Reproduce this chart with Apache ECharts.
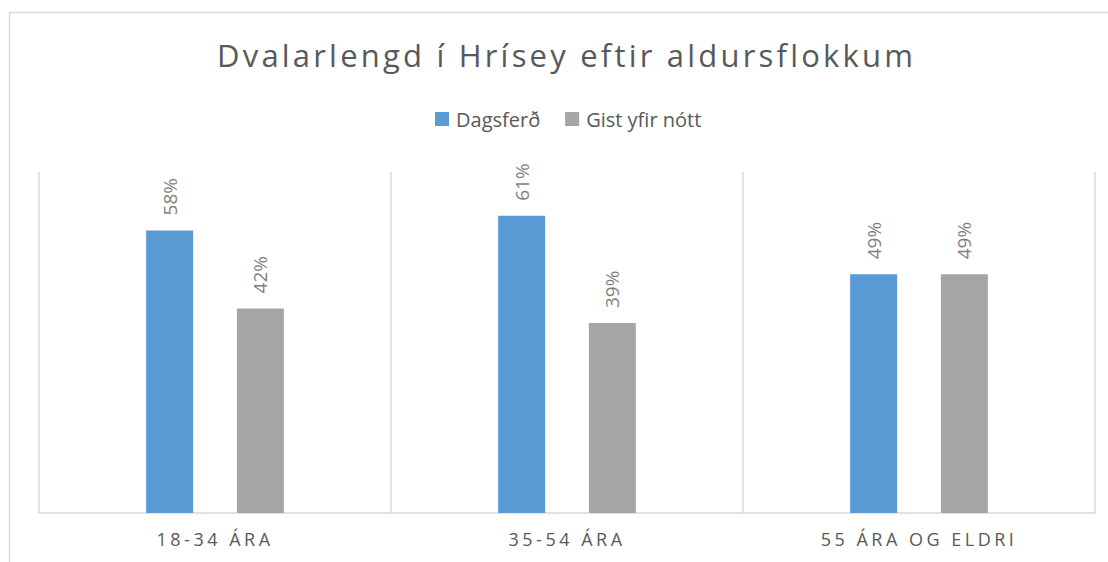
<!DOCTYPE html>
<html>
<head>
<meta charset="utf-8">
<script src="https://cdn.jsdelivr.net/npm/echarts@6/dist/echarts.min.js"></script>
<style>
  html, body { margin: 0; padding: 0; background: #fff; }
  #chart { width: 1108px; height: 562px; }
</style>
</head>
<body>
<div id="chart"></div>
<script>
const titleText = 'Dvalarlengd í Hrísey eftir aldursflokkum';
const categories = ['18-34 ÁRA', '35-54 ÁRA', '55 ÁRA OG ELDRI'];
const seriesNames = ['Dagsferð', 'Gist yfir nótt'];
const dagsferd = [58, 61, 49];
const gist = [42, 39, 49];

const chart = echarts.init(document.getElementById('chart'), null, { renderer: 'svg' });

const labelStyle = {
  show: true,
  position: 'top',
  rotate: 90,
  align: 'left',
  verticalAlign: 'middle',
  distance: 15,
  color: '#7f7f7f',
  fontFamily: 'Open Sans',
  fontSize: 19,
  formatter: function (p) { return p.value + '%'; }
};

const option = {
  animation: false,
  color: ['#5b9bd5', '#a5a5a5'],
  title: {
    text: titleText,
    left: 217,
    top: 39,
    padding: 0,
    textStyle: {
      fontFamily: 'Open Sans',
      fontWeight: 'normal',
      fontSize: 31,
      color: '#595959'
    }
  },
  legend: {
    left: 435,
    top: 109,
    padding: 0,
    itemWidth: 14,
    itemHeight: 14,
    itemGap: 25,
    icon: 'rect',
    textStyle: {
      fontFamily: 'Open Sans',
      fontSize: 20,
      color: '#595959',
      padding: [0, 0, 0, 2]
    },
    data: seriesNames
  },
  graphic: [{
    type: 'rect',
    shape: { x: 9.5, y: 12.5, width: 1300, height: 700 },
    style: { fill: 'none', stroke: '#d9d9d9', lineWidth: 1.5 },
    silent: true,
    z: -1
  }],
  grid: {
    left: 39,
    right: 13,
    top: 172,
    bottom: 49
  },
  xAxis: {
    type: 'category',
    data: categories,
    axisLine: { lineStyle: { color: '#d9d9d9', width: 1.5 } },
    axisTick: { show: false },
    splitLine: { show: true, lineStyle: { color: '#d9d9d9', width: 1.5 } },
    axisLabel: {
      margin: 17,
      fontFamily: 'Open Sans',
      fontSize: 18,
      color: '#595959'
    }
  },
  yAxis: {
    type: 'value',
    min: 0,
    max: 70,
    show: false,
    splitLine: { show: false }
  },
  series: [
    {
      name: seriesNames[0],
      type: 'bar',
      barWidth: 47,
      barGap: '93%',
      data: dagsferd,
      label: labelStyle
    },
    {
      name: seriesNames[1],
      type: 'bar',
      barWidth: 47,
      barGap: '93%',
      data: gist,
      label: labelStyle
    }
  ]
};

chart.setOption(option);

// letter spacing for title and axis labels (SVG text)
function applySpacing() {
  const texts = document.querySelectorAll('#chart svg text');
  texts.forEach(function (t) {
    const s = t.textContent;
    if (s === titleText) {
      t.style.letterSpacing = '3.2px';
    } else if (categories.indexOf(s) >= 0) {
      t.style.letterSpacing = '3.5px';
    }
  });
}
chart.on('finished', applySpacing);
applySpacing();
</script>
</body>
</html>
